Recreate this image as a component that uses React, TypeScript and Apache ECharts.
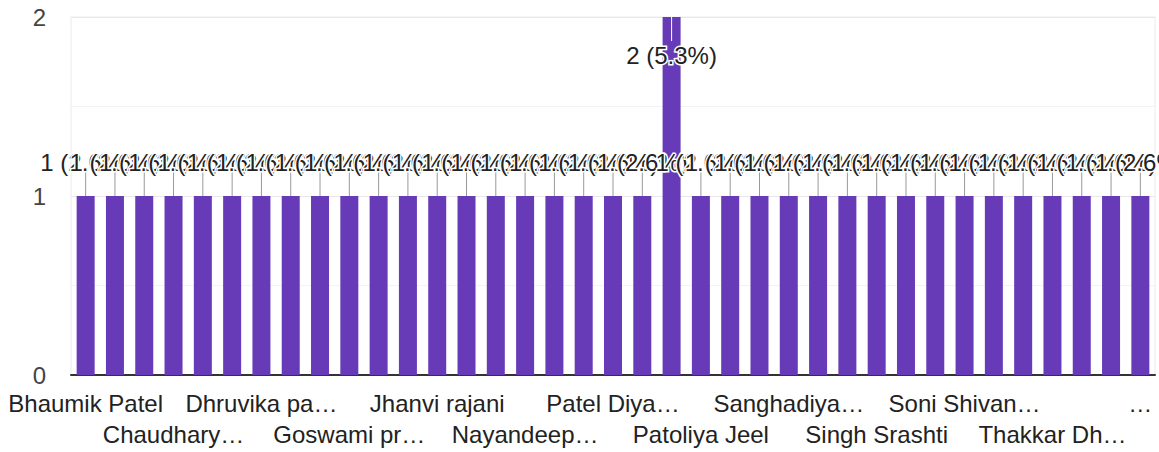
import React, { useEffect, useRef } from "react";
import * as echarts from "echarts";

const categories: string[] = [
  "Bhaumik Patel", "Bhavya Shah", "Chandni Mehta", "Chaudhary…", "Darshan Joshi", "Desai Riya",
  "Dhruvika pa…", "Gajjar Krupa", "Gohil Nisha", "Goswami pr…", "Hetvi Parmar", "Jadav Mansi",
  "Jhanvi rajani", "Kavya Modi", "Mistry Pooja", "Nayandeep…", "Parmar Khushi", "Patel Aarti",
  "Patel Diya…", "Patel Krisha", "Patel Nidhi", "Patoliya Jeel", "Prajapati Urvi", "Rathod Jinal",
  "Sanghadiya…", "Shah Dhruvi", "Shukla Isha", "Singh Srashti", "Solanki Hiral", "Soni Bhakti",
  "Soni Shivan…", "Sutariya Riddhi", "Tailor Ekta", "Thakkar Dh…", "Trivedi Mahi", "Vaghela Sneha",
  "…",
];

const values: number[] = [
  1, 1, 1, 1, 1, 1, 1, 1, 1, 1, 1, 1, 1, 1, 1, 1, 1, 1, 1, 1,
  2, 1, 1, 1, 1, 1, 1, 1, 1, 1, 1, 1, 1, 1, 1, 1, 1,
];

const yTicks: number[] = [0, 1, 2];

const FONT = "'Liberation Sans', Arial, sans-serif";

export default function App() {
  const ref = useRef<HTMLDivElement>(null);
  useEffect(() => {
    if (!ref.current) return;
    const chart = echarts.init(ref.current, undefined, { renderer: "svg" });
    const total = values.reduce((a, b) => a + b, 0);
    const maxV = Math.max(...values);
    const labelOf = (v: number) => `${v} (${((v / total) * 100).toFixed(1)}%)`;
    const labelBase = {
      hideOverlap: false,
      showMinLabel: true,
      showMaxLabel: true,
      color: "#222",
      fontSize: 24,
      fontFamily: FONT,
      lineHeight: 31,
    };
    chart.setOption({
      animation: false,
      grid: {
        left: 71,
        right: 4,
        top: 17,
        bottom: 77,
        show: true,
        borderColor: "#ebebeb",
        borderWidth: 1,
      },
      xAxis: [
        {
          type: "category",
          data: categories,
          position: "bottom",
          axisTick: { show: false },
          axisLine: { lineStyle: { color: "#333", width: 2 } },
          axisLabel: {
            ...labelBase,
            margin: 13,
            interval: (idx: number) => idx % 6 === 0,
          },
        },
        {
          type: "category",
          data: categories,
          position: "bottom",
          offset: 0,
          axisTick: { show: false },
          axisLine: { show: false },
          splitLine: { show: false },
          axisLabel: {
            ...labelBase,
            margin: 44,
            interval: (idx: number) => idx % 6 === 3,
          },
        },
      ],
      yAxis: {
        type: "value",
        min: yTicks[0],
        max: yTicks[yTicks.length - 1],
        interval: 1,
        axisLine: { show: false },
        axisTick: { show: false },
        splitLine: { lineStyle: { color: "#e8e8e8", width: 1 } },
        minorTick: { show: false, splitNumber: 2 },
        minorSplitLine: { show: true, lineStyle: { color: "#f3f3f3", width: 1 } },
        axisLabel: {
          color: "#444",
          fontSize: 24,
          fontFamily: FONT,
          margin: 25,
        },
      },
      series: [
        {
          type: "bar",
          data: values,
          xAxisIndex: 0,
          barWidth: 18,
          itemStyle: { color: "#673ab7" },
          z: 2,
        },
        {
          type: "custom",
          xAxisIndex: 0,
          data: values.map((v, i) => [i, v]),
          encode: { x: 0, y: 1 },
          z: 5,
          renderItem: (params: any, api: any) => {
            const i = api.value(0);
            const v = api.value(1);
            const p = api.coord([i, v]);
            const inside = v === maxV;
            const x = p[0];
            const y = p[1];
            const stemEnd = inside ? y + 24 : y - 24;
            const ty = inside ? y + 38 : y - 34;
            return {
              type: "group",
              children: [
                {
                  type: "line",
                  shape: { x1: x, y1: y, x2: x, y2: stemEnd },
                  style: { stroke: inside ? "#fff" : "#999", lineWidth: 1 },
                },
                {
                  type: "text",
                  x,
                  y: ty,
                  style: {
                    text: labelOf(v),
                    fill: "#222",
                    font: `24px ${FONT}`,
                    align: "center",
                    verticalAlign: "middle",
                    stroke: "#fff",
                    lineWidth: 3,
                  },
                },
              ],
            };
          },
        },
      ],
    });
    return () => chart.dispose();
  }, []);
  return (
    <div
      ref={ref}
      style={{ position: "absolute", left: 0, top: 0, width: 1159, height: 452 }}
    />
  );
}
